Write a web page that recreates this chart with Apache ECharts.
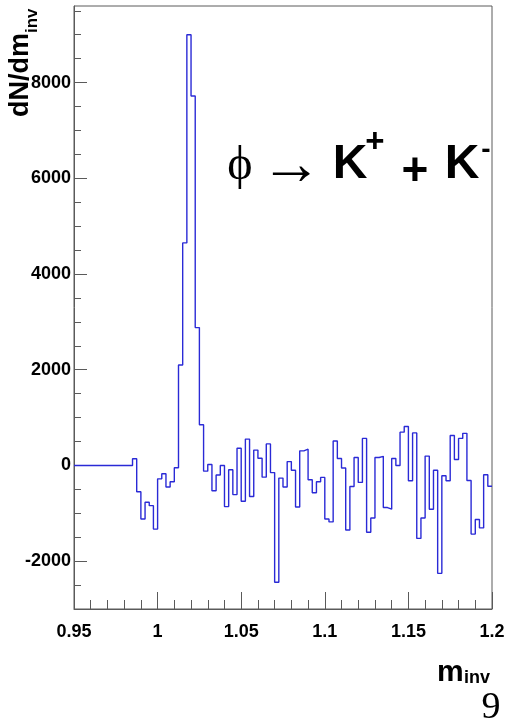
<!DOCTYPE html>
<html lang="en">
<head>
    <meta charset="UTF-8">
    <title>phi -> K+ K-</title>
    <script src="https://cdn.jsdelivr.net/npm/echarts@6.0.0/dist/echarts.min.js"></script>
    <style>
        html, body { margin: 0; padding: 0; background: #fff; }
    </style>
</head>
<body>
    <div id="main" style="width:517px;height:721px;"></div>
<script type="text/javascript">
    // histogram binning (100 bins from 0.95 to 1.2)
    var binMin = 0.95;
    var binWidth = 0.0025;
    // bin contents
    var counts = [
        0, 0, 0, 0, 0, 0, 0, 0, 0, 0,
        0, 0, 0, 0, 140, -550, -1120, -770, -840, -1330,
        -280, -175, -450, -340, -50, 2100, 4650, 9000, 7720, 2880,
        850, -120, 20, -530, -200, 0, -860, -90, -610, 360,
        -750, 550, -650, 320, 150, -245, 450, -150, -2440, -265,
        -450, 80, -100, -870, 305, 340, -300, -570, -340, -250,
        -1120, -1180, 510, 145, -55, -1350, -440, 165, -355, 565,
        -1395, -1100, 165, 190, -880, -915, 145, 0, 695, 815,
        -320, 680, -1525, -1100, 195, -915, -100, -2255, -215, -320,
        625, 125, 565, 670, -315, -1435, -1130, -1305, -195, -435
    ];
    var yTicks = [-2000, 0, 2000, 4000, 6000, 8000];
    var xTicks = [0.95, 1, 1.05, 1.1, 1.15, 1.2];

    var myChart = echarts.init(document.getElementById('main'), null, { renderer: 'canvas' });

    // step points at the low edge of every bin, plus the last upper edge
    var points = [];
    for (var i = 0; i < counts.length; i++) {
        points.push([+(binMin + i * binWidth).toFixed(4), counts[i]]);
    }
    points.push([+(binMin + counts.length * binWidth).toFixed(4), counts[counts.length - 1]]);

    // minor ticks on y every 500
    var yMinor = [];
    for (var v = -3000; v <= 9500; v += 500) yMinor.push(v);

    var axisColor = '#5a5a5a';
    var labelFont = { color: '#000', fontWeight: 'bold', fontSize: 18, fontFamily: 'Liberation Sans' };

    function txt(x, y, s, font, align, rot) {
        var el = {
            type: 'text', x: x, y: y,
            style: { text: s, font: font, fill: '#000',
                textAlign: align, textVerticalAlign: 'middle', align: align, verticalAlign: 'middle' }
        };
        if (rot) el.rotation = rot;
        return el;
    }

    var option = {
        backgroundColor: '#fff',
        animation: false,
        grid: {
            left: 74, right: 25, top: 6, bottom: 112,
            show: true, borderColor: axisColor, borderWidth: 1,
            outerBoundsMode: 'none'
        },
        xAxis: {
            type: 'value',
            min: 0.95, max: 1.2, interval: 0.05,
            axisLine: { onZero: false, lineStyle: { color: axisColor, width: 1 } },
            axisTick: { inside: true, length: 17, lineStyle: { color: axisColor } },
            minorTick: { show: true, splitNumber: 5, length: 9, lineStyle: { color: axisColor } },
            splitLine: { show: false },
            axisLabel: Object.assign({
                margin: 14,
                showMinLabel: true, showMaxLabel: true,
                formatter: function (val) {
                    for (var j = 0; j < xTicks.length; j++) {
                        if (Math.abs(val - xTicks[j]) < 1e-6) return String(xTicks[j]);
                    }
                    return '';
                }
            }, labelFont)
        },
        yAxis: [{
            type: 'value',
            min: -3000, max: 9600,
            axisLine: { show: true, onZero: false, lineStyle: { color: axisColor, width: 1 } },
            axisTick: { show: true, inside: true, length: 7, customValues: yMinor, lineStyle: { color: axisColor } },
            splitLine: { show: false },
            axisLabel: Object.assign({
                margin: 3, customValues: yTicks,
                formatter: function (val) { return String(Math.round(val)); }
            }, labelFont)
        }, {
            type: 'value',
            position: 'left',
            min: -3000, max: 9600,
            axisLine: { show: false, onZero: false },
            axisTick: { show: true, inside: true, length: 13, customValues: yTicks, lineStyle: { color: axisColor } },
            splitLine: { show: false },
            axisLabel: { show: false }
        }],
        series: [{
            type: 'line',
            step: 'end',
            xAxisIndex: 0,
            yAxisIndex: 0,
            data: points,
            showSymbol: false,
            symbol: 'none',
            lineStyle: { color: '#2a2ad6', width: 1.4 },
            clip: true
        }],
        graphic: [
            // y axis title, mostly cut off on the left
            txt(21, 33, 'dN/dm', 'bold 27px "Liberation Sans"', 'right', Math.PI / 2),
            txt(32, 33, 'inv', 'bold 17px "Liberation Sans"', 'left', Math.PI / 2),
            // x axis title
            txt(437, 673, 'm', 'bold 30px "Liberation Sans"', 'left'),
            txt(464, 678, 'inv', 'bold 18px "Liberation Sans"', 'left'),
            // decay label
            txt(240, 166, '\u03d5', '48px "Liberation Serif", "DejaVu Serif"', 'center'),
            txt(291, 168, '\u2192', '62px "Liberation Serif"', 'center'),
            txt(350, 165, 'K', 'bold 48px "Liberation Sans"', 'center'),
            txt(375, 143, '+', 'bold 33px "Liberation Sans"', 'center'),
            txt(415, 172, '+', 'bold 46px "Liberation Sans"', 'center'),
            txt(462, 165, 'K', 'bold 48px "Liberation Sans"', 'center'),
            txt(486, 150, '-', 'bold 28px "Liberation Sans"', 'center'),
            // page number
            txt(491, 708, '9', '38px "Liberation Serif"', 'center')
        ]
    };

    myChart.setOption(option);
</script>
</body>
</html>
